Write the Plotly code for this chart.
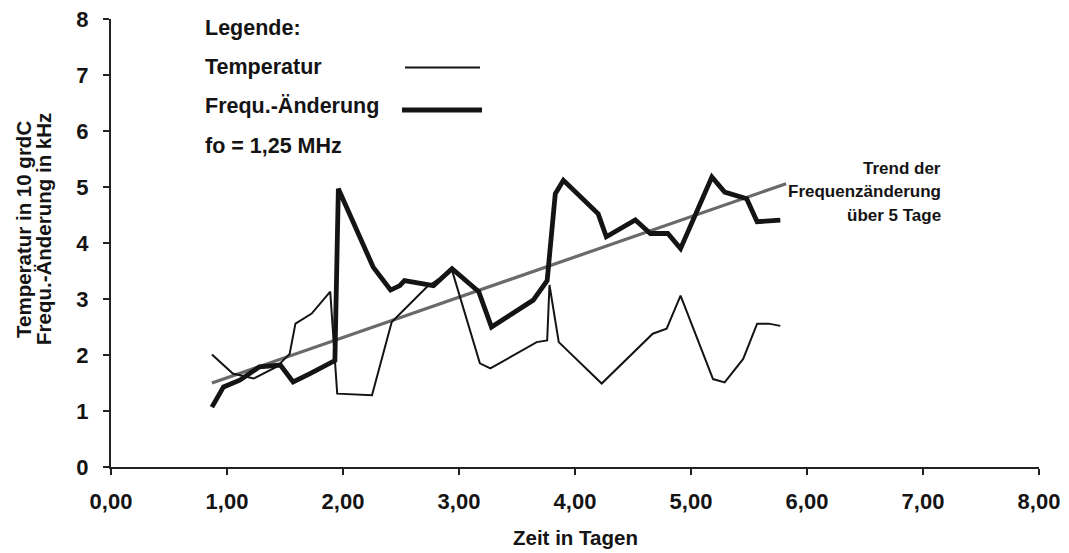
import plotly.graph_objects as go

# Temperature (thin line), in 10 grdC
temp_x = [0.87, 1.05, 1.23, 1.43, 1.54, 1.59, 1.73, 1.89, 1.95, 2.25, 2.42, 2.72, 2.94,
          3.18, 3.27, 3.67, 3.76, 3.78, 3.86, 4.23, 4.67, 4.79, 4.91, 5.19, 5.29, 5.45,
          5.57, 5.67, 5.77]
temp_y = [2.01, 1.67, 1.58, 1.79, 2.02, 2.56, 2.74, 3.13, 1.31, 1.28, 2.59, 3.21, 3.51,
          1.85, 1.76, 2.23, 2.26, 3.25, 2.23, 1.49, 2.38, 2.47, 3.06, 1.57, 1.51, 1.93,
          2.56, 2.56, 2.52]

# Frequency change (thick line), in kHz
freq_x = [0.87, 0.97, 1.11, 1.28, 1.46, 1.57, 1.72, 1.89, 1.93, 1.96, 2.26, 2.41, 2.49,
          2.53, 2.78, 2.94, 3.17, 3.28, 3.64, 3.76, 3.83, 3.90, 4.20, 4.27, 4.52, 4.65,
          4.80, 4.91, 5.18, 5.29, 5.48, 5.57, 5.77]
freq_y = [1.07, 1.43, 1.55, 1.79, 1.82, 1.52, 1.67, 1.85, 1.90, 4.97, 3.57, 3.16, 3.24,
          3.33, 3.24, 3.54, 3.13, 2.50, 2.98, 3.33, 4.88, 5.12, 4.52, 4.11, 4.41, 4.17,
          4.17, 3.90, 5.18, 4.91, 4.79, 4.38, 4.41]

# Trend of frequency change over 5 days
trend_x = [0.87, 5.82]
trend_y = [1.50, 5.06]

x_ticks = [0, 1, 2, 3, 4, 5, 6, 7, 8]
x_tick_labels = ["0,00", "1,00", "2,00", "3,00", "4,00", "5,00", "6,00", "7,00", "8,00"]
y_ticks = [0, 1, 2, 3, 4, 5, 6, 7, 8]

FONT = "Liberation Sans, Arial, sans-serif"
INK = "#141414"

fig = go.Figure()
fig.add_trace(go.Scatter(x=trend_x, y=trend_y, mode="lines",
                         line=dict(color="#6a6a6a", width=3.2), showlegend=False))
fig.add_trace(go.Scatter(x=temp_x, y=temp_y, mode="lines",
                         line=dict(color=INK, width=2), showlegend=False))
fig.add_trace(go.Scatter(x=freq_x, y=freq_y, mode="lines",
                         line=dict(color=INK, width=4.8), showlegend=False))

W, H = 1069, 553
PL, PR, PT, PB = 111, 1039, 19, 467      # plot area in window pixels
ml, mt, mr, mb = PL, PT, W - PR, H - PB
pw, ph = PR - PL, PB - PT


def px(xp):
    return (xp - PL) / pw


def py(yp):
    return (PB - yp) / ph


annotations = []
def add_text(text, x, y, size, xanchor="left", angle=0):
    annotations.append(dict(text="<b>" + text + "</b>", xref="paper", yref="paper",
                            x=x, y=y, xanchor=xanchor, yanchor="middle",
                            showarrow=False, textangle=angle,
                            font=dict(family=FONT, size=size, color=INK)))

add_text("Legende:", px(203), py(28), 21.5)
add_text("Temperatur", px(203), py(67), 21.5)
add_text("Frequ.-Änderung", px(203), py(106), 21.5)
add_text("fo = 1,25 MHz", px(203), py(146), 21.5)

add_text("Trend der", px(943), py(168), 17, xanchor="right")
add_text("Frequenzänderung", px(943), py(191), 17, xanchor="right")
add_text("über 5 Tage", px(943), py(215), 17, xanchor="right")

add_text("Temperatur in 10 grdC", px(23), py(230), 20.5, xanchor="center", angle=-90)
add_text("Frequ.-Änderung in kHz", px(43), py(229), 20.5, xanchor="center", angle=-90)

add_text("Zeit in Tagen", px(575), py(537), 20.5, xanchor="center")

shapes = [
    dict(type="line", xref="paper", yref="paper", x0=px(405), x1=px(480),
         y0=py(67.5), y1=py(67.5), line=dict(color=INK, width=2)),
    dict(type="line", xref="paper", yref="paper", x0=px(402), x1=px(482),
         y0=py(110), y1=py(110), line=dict(color=INK, width=4.8)),
]

fig.update_layout(
    width=W, height=H, autosize=False,
    margin=dict(l=ml, r=mr, t=mt, b=mb, pad=0, autoexpand=False),
    paper_bgcolor="white", plot_bgcolor="white",
    font=dict(family=FONT, size=21, color=INK),
    annotations=annotations, shapes=shapes,
    showlegend=False,
)
fig.update_xaxes(range=[0, 8], tickvals=x_ticks, ticktext=["<b>%s</b>" % t for t in x_tick_labels],
                 showgrid=False, zeroline=False, showline=True, automargin=False,
                 linecolor="#222222", linewidth=2, ticks="outside", ticklen=6,
                 tickcolor="#222222", tickwidth=1.5,
                 tickfont=dict(family=FONT, size=22, color=INK),
                 ticklabelstandoff=8, ticklabeloverflow="allow")
fig.update_yaxes(range=[0, 8], tickvals=y_ticks,
                 ticktext=["<b>%d</b>" % v for v in y_ticks],
                 showgrid=False, zeroline=False, showline=True, automargin=False,
                 linecolor="#222222", linewidth=2, ticks="outside", ticklen=6,
                 tickcolor="#222222", tickwidth=1.5,
                 tickfont=dict(family=FONT, size=22, color=INK),
                 ticklabelstandoff=10, ticklabeloverflow="allow")

# remove the default 8px page margin so the figure fills the window exactly
fig.write_html("out.html", config={"displayModeBar": False},
               post_script="document.body.style.margin='0';")
